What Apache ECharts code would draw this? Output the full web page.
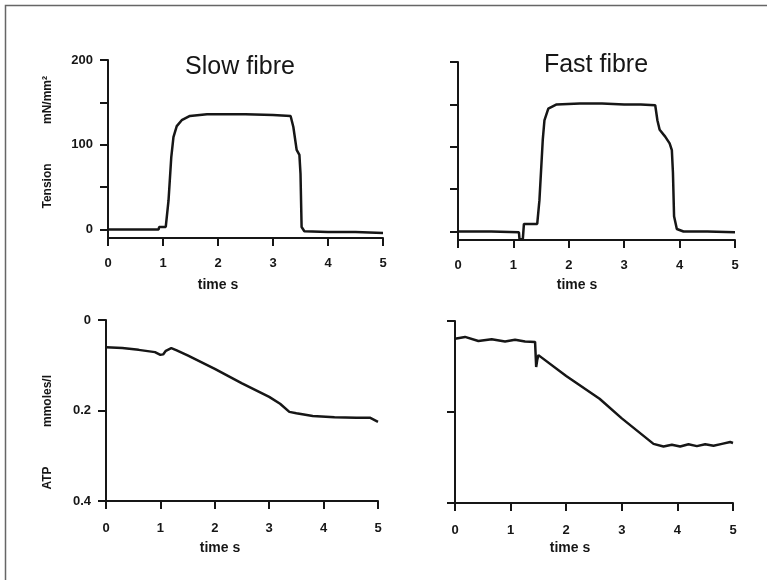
<!DOCTYPE html>
<html>
<head>
<meta charset="utf-8">
<script src="https://cdn.jsdelivr.net/npm/echarts@6/dist/echarts.min.js"></script>
<style>
  html, body { margin: 0; padding: 0; background: #fff; }
  #chart { width: 767px; height: 580px; }
</style>
</head>
<body>
<div id="chart"></div>
<script>
// tension traces (mN/mm2) against time (s)
const slowTensionTime = [0, 0.5, 0.92, 0.93, 1.05, 1.07, 1.1, 1.15, 1.19, 1.25, 1.34, 1.49, 1.8, 2.5, 3.0, 3.32, 3.37, 3.43, 3.48, 3.5, 3.52, 3.57, 4.0, 4.5, 5.0]
const slowTension = [0, 0, 0, 3, 3, 5, 34, 85, 109, 122, 129, 134, 136, 136, 135, 134, 121, 94, 88, 66, 3, -2, -3, -3, -4]

const fastTensionTime = [0, 0.6, 1.1, 1.11, 1.17, 1.19, 1.43, 1.47, 1.53, 1.56, 1.63, 1.78, 2.2, 2.6, 3.0, 3.3, 3.56, 3.6, 3.64, 3.74, 3.82, 3.86, 3.88, 3.9, 3.95, 4.07, 4.5, 5.0]
const fastTension = [0, 0, -1, -9, -9, 9, 9, 37, 108, 131, 145, 150, 151, 151, 150, 150, 149, 131, 120, 112, 104, 96, 69, 18, 3, 0, 0, -1]

// ATP traces (mmoles/l) against time (s)
const slowAtpTime = [0, 0.3, 0.6, 0.9, 1.0, 1.05, 1.1, 1.2, 1.3, 1.5, 2.0, 2.5, 3.0, 3.2, 3.37, 3.5, 3.8, 4.2, 4.6, 4.85, 5.0]
const slowAtp = [0.06, 0.062, 0.066, 0.071, 0.077, 0.076, 0.068, 0.062, 0.067, 0.078, 0.108, 0.14, 0.17, 0.185, 0.203, 0.206, 0.212, 0.215, 0.216, 0.216, 0.225]

const fastAtpTime = [0, 0.18, 0.42, 0.66, 0.9, 1.08, 1.26, 1.44, 1.46, 1.48, 1.5, 2.0, 2.6, 3.0, 3.57, 3.75, 3.9, 4.05, 4.2, 4.35, 4.5, 4.65, 4.8, 4.95, 5.0]
const fastAtp = [0.039, 0.035, 0.044, 0.04, 0.045, 0.041, 0.045, 0.046, 0.101, 0.085, 0.075, 0.121, 0.171, 0.214, 0.27, 0.276, 0.272, 0.276, 0.271, 0.275, 0.271, 0.274, 0.27, 0.266, 0.268]

const timeTicks = [0, 1, 2, 3, 4, 5]
const tensionTicks = [0, 50, 100, 150, 200]
const tensionLabels = [0, 100, 200]

const zip = (xs, ys) => xs.map((x, i) => [x, ys[i]])

const ink = '#161616'
const font = '"Liberation Sans", Arial, Helvetica, sans-serif'

// panel boxes in pixels
const grids = [
  { left: 108, top: 60, width: 275, height: 178 },
  { left: 458, top: 62, width: 277, height: 178 },
  { left: 106, top: 320, width: 272, height: 181 },
  { left: 455, top: 321, width: 278, height: 182 }
]

const xAxis = grids.map((g, i) => ({
  type: 'value', gridIndex: i, min: 0, max: 5, interval: 1,
  axisLine: { show: true, onZero: false, lineStyle: { color: ink, width: 2 } },
  axisTick: { show: true, length: 8, lineStyle: { color: ink, width: 2 }, customValues: timeTicks },
  axisLabel: { fontFamily: font, fontWeight: 'bold', fontSize: 13, color: ink, margin: i < 2 ? 19 : 21, customValues: timeTicks },
  splitLine: { show: false }
}))

const tensionAxis = (i, showLabels) => ({
  type: 'value', gridIndex: i, min: -10, max: 200,
  axisLine: { show: true, onZero: false, lineStyle: { color: ink, width: 2 } },
  axisTick: { show: true, length: 8, lineStyle: { color: ink, width: 2 }, customValues: tensionTicks },
  axisLabel: { show: showLabels, fontFamily: font, fontWeight: 'bold', fontSize: 13, color: ink, margin: 15, customValues: tensionLabels },
  splitLine: { show: false }
})

const atpAxis = (i, showLabels) => ({
  type: 'value', gridIndex: i, min: 0, max: 0.4, interval: 0.2, inverse: true,
  axisLine: { show: true, onZero: false, lineStyle: { color: ink, width: 2 } },
  axisTick: { show: true, length: 8, lineStyle: { color: ink, width: 2 } },
  axisLabel: { show: showLabels, fontFamily: font, fontWeight: 'bold', fontSize: 13, color: ink, margin: 15 },
  splitLine: { show: false }
})

const trace = (i, data) => ({
  type: 'line', xAxisIndex: i, yAxisIndex: i, data,
  showSymbol: false, silent: true,
  lineStyle: { color: ink, width: 2.5 }
})

const label = (x, y, text, size, weight, rot) => ({
  type: 'text', x, y, rotation: rot || 0,
  style: { text, fontFamily: font, fontSize: size, fontWeight: weight, fill: ink, align: 'center', verticalAlign: 'middle' }
})

const chart = echarts.init(document.getElementById('chart'))
chart.setOption({
  animation: false,
  backgroundColor: '#fff',
  grid: grids,
  xAxis,
  yAxis: [tensionAxis(0, true), tensionAxis(1, false), atpAxis(2, true), atpAxis(3, false)],
  series: [
    trace(0, zip(slowTensionTime, slowTension)),
    trace(1, zip(fastTensionTime, fastTension)),
    trace(2, zip(slowAtpTime, slowAtp)),
    trace(3, zip(fastAtpTime, fastAtp))
  ],
  graphic: [
    { type: 'polyline', shape: { points: [[5.5, 580], [5.5, 5.5], [767, 5.5]] }, style: { stroke: '#666', lineWidth: 1.5, fill: null } },
    label(240, 67, 'Slow fibre', 25, 'normal'),
    label(596, 65, 'Fast fibre', 25, 'normal'),
    label(218, 285, 'time s', 14, 'bold'),
    label(577, 285, 'time s', 14, 'bold'),
    label(220, 548, 'time s', 14, 'bold'),
    label(570, 548, 'time s', 14, 'bold'),
    label(48, 186, 'Tension', 12, 'bold', Math.PI / 2),
    label(48, 100, 'mN/mm²', 12, 'bold', Math.PI / 2),
    label(48, 478, 'ATP', 12, 'bold', Math.PI / 2),
    label(48, 401, 'mmoles/l', 12, 'bold', Math.PI / 2)
  ]
})
</script>
</body>
</html>
